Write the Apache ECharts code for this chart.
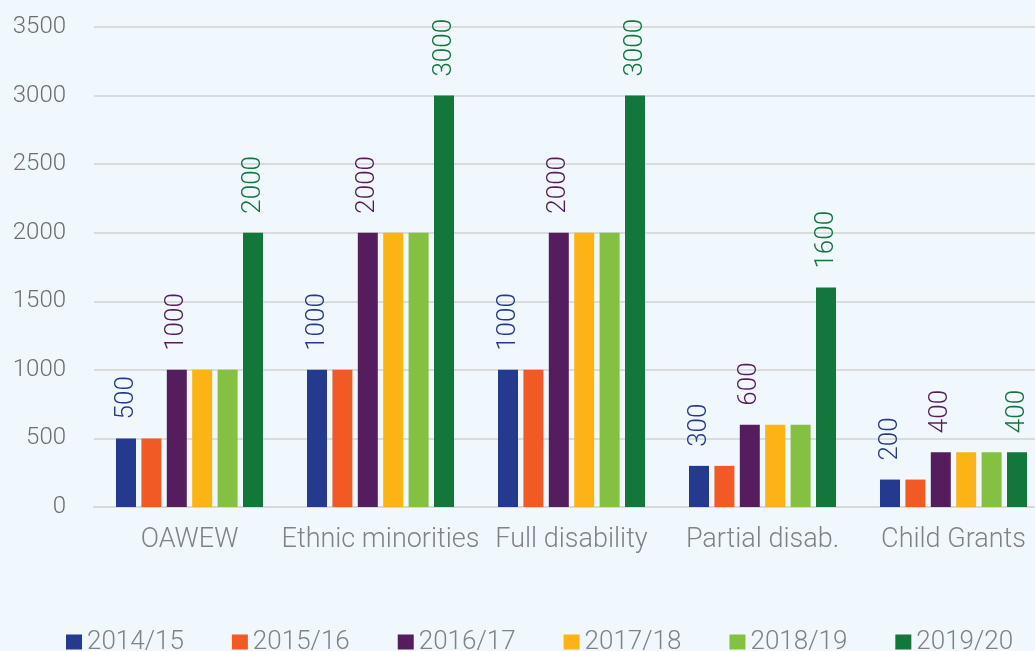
<!DOCTYPE html>
<html>
<head>
<meta charset="utf-8">
<script src="https://cdn.jsdelivr.net/npm/echarts@6/dist/echarts.min.js"></script>
<style>
html,body{margin:0;padding:0;background:#f0f8fe;overflow:hidden;width:1035px;height:651px;}
#c{width:1050px;height:651px;}
</style>
</head>
<body>
<div id="c"></div>
<script>
const categories = ['OAWEW', 'Ethnic minorities', 'Full disability', 'Partial disab.', 'Child Grants'];
const seriesNames = ['2014/15', '2015/16', '2016/17', '2017/18', '2018/19', '2019/20'];
const v2014 = [500, 1000, 1000, 300, 200];
const v2015 = [500, 1000, 1000, 300, 200];
const v2016 = [1000, 2000, 2000, 600, 400];
const v2017 = [1000, 2000, 2000, 600, 400];
const v2018 = [1000, 2000, 2000, 600, 400];
const v2019 = [2000, 3000, 3000, 1600, 400];
const yTicks = [0, 500, 1000, 1500, 2000, 2500, 3000, 3500];

const values = [v2014, v2015, v2016, v2017, v2018, v2019];
const colors = ['#253a8e', '#f15a24', '#561d5e', '#fbb316', '#84c041', '#13763b'];
const labelled = [true, false, true, false, false, true];
const FONT = 'Roboto, "Liberation Sans", sans-serif';

const chart = echarts.init(document.getElementById('c'));
chart.setOption({
  backgroundColor: '#f0f8fe',
  animation: false,
  grid: { left: 94, top: 27, bottom: 144, width: 955, containLabel: false },
  legend: {
    data: seriesNames,
    left: 61, top: 624,
    itemWidth: 16, itemHeight: 15, itemGap: 48,
    icon: 'rect',
    textStyle: { color: '#808285', fontSize: 26, fontFamily: FONT, fontWeight: 300 }
  },
  xAxis: {
    type: 'category',
    data: categories,
    axisLine: { lineStyle: { color: '#d6d8da', width: 2 } },
    axisTick: { show: false },
    axisLabel: { color: '#808285', fontSize: 27, fontFamily: FONT, fontWeight: 300, margin: 20, interval: 0 }
  },
  yAxis: {
    type: 'value',
    min: yTicks[0], max: yTicks[yTicks.length - 1], interval: 500,
    axisLine: { show: false },
    axisTick: { show: false },
    splitLine: { lineStyle: { color: '#d9dbdd', width: 2 } },
    axisLabel: { color: '#6d6e71', fontSize: 24, fontFamily: FONT, fontWeight: 300, margin: 28,
      formatter: v => String(v) }
  },
  series: values.map((vals, i) => ({
    name: seriesNames[i],
    type: 'bar',
    data: vals,
    barWidth: 20,
    barGap: '27%',
    itemStyle: { color: colors[i] },
    label: {
      show: labelled[i],
      position: 'top',
      rotate: 90,
      align: 'left',
      verticalAlign: 'middle',
      distance: 19,
      color: colors[i],
      fontSize: 26,
      fontFamily: FONT,
      fontWeight: 300
    }
  }))
});
</script>
</body>
</html>
